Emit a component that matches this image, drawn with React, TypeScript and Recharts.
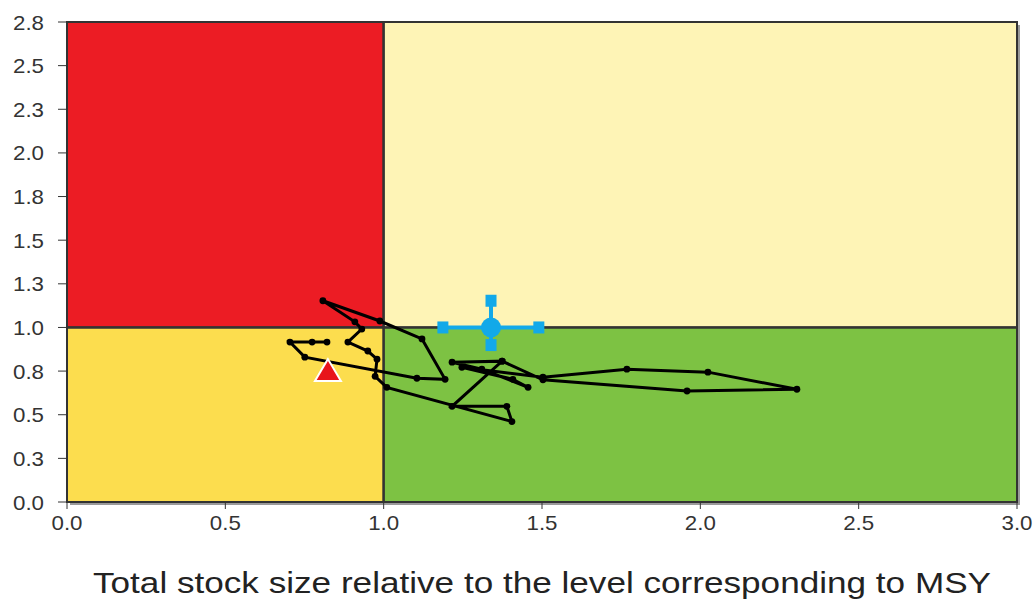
import {
  ScatterChart,
  Scatter,
  XAxis,
  YAxis,
  ReferenceArea,
  ReferenceLine,
  Label,
} from "recharts";

const X_TICKS = [0, 0.5, 1, 1.5, 2, 2.5, 3];
const Y_TICKS = [0, 0.25, 0.5, 0.75, 1, 1.25, 1.5, 1.75, 2, 2.25, 2.5, 2.75];

// stock trajectory (stock size / MSY, fishing pressure / MSY)
const TRAJ_X = [
  0.821, 0.774, 0.704, 0.751, 1.105, 1.194, 1.121, 0.988, 0.808, 0.909, 0.931,
  0.887, 0.95, 0.979, 0.973, 1.01, 1.405, 1.389, 1.216, 1.374, 1.216, 1.31,
  1.456, 1.408, 1.247, 1.503, 1.768, 2.024, 2.305, 1.958, 1.503, 1.374,
];
const TRAJ_Y = [
  0.916, 0.916, 0.916, 0.83, 0.709, 0.703, 0.934, 1.037, 1.153, 1.032, 0.991,
  0.916, 0.865, 0.818, 0.72, 0.657, 0.461, 0.548, 0.548, 0.807, 0.801, 0.761,
  0.657, 0.703, 0.772, 0.715, 0.761, 0.744, 0.646, 0.636, 0.7, 0.807,
];
const trajectory = TRAJ_X.map((x, i) => ({ x, y: TRAJ_Y[i] }));

// blue estimate with its ranges
const BLUE_CENTER = [{ x: 1.339, y: 1.0 }];
const BLUE_H = [
  { x: 1.187, y: 1.0 },
  { x: 1.49, y: 1.0 },
];
const BLUE_V = [
  { x: 1.339, y: 1.153 },
  { x: 1.339, y: 0.899 },
];

const RED_TRIANGLE = [{ x: 0.824, y: 0.75 }];

const RED = "#EC1C24";
const PALE = "#FEF4B6";
const YELLOW = "#FCDD4E";
const GREEN = "#7DC243";
const BLUE = "#12A9E9";
const BORDER = "#333";
const FONT = "Liberation Sans, Arial, sans-serif";

const fmt = (v: number) => v.toFixed(1);

// the source figure is a bit stretched sideways, so labels get a fixed length
function YTick(props: any) {
  return (
    <text
      x={props.x}
      y={props.y}
      textAnchor="end"
      dominantBaseline="central"
      fill="#333"
      fontSize={21}
      fontFamily={FONT}
      textLength={31}
      lengthAdjust="spacingAndGlyphs"
    >
      {fmt(props.payload.value)}
    </text>
  );
}

function XTick(props: any) {
  return (
    <text
      x={props.x}
      y={props.y}
      textAnchor="middle"
      dominantBaseline="hanging"
      fill="#333"
      fontSize={21}
      fontFamily={FONT}
      textLength={31}
      lengthAdjust="spacingAndGlyphs"
    >
      {fmt(props.payload.value)}
    </text>
  );
}

function Dot(props: any) {
  return <circle cx={props.cx} cy={props.cy} r={3.4} fill="#000" />;
}

function Square(props: any) {
  return <rect x={props.cx - 5.5} y={props.cy - 6} width={11} height={12} fill={BLUE} />;
}

function BigDot(props: any) {
  return <circle cx={props.cx} cy={props.cy} r={10} fill={BLUE} />;
}

function Triangle(props: any) {
  const { cx, cy } = props;
  return (
    <polygon
      points={`${cx},${cy - 12} ${cx - 13},${cy + 10} ${cx + 13},${cy + 10}`}
      fill="#E8141B"
      stroke="#fff"
      strokeWidth={2}
    />
  );
}

function PlotShadow(props: any) {
  const { x, y, width, height } = props;
  return <rect x={x + 3} y={y + 3} width={width} height={height} fill="#9a9a9a" />;
}

function AxisTitle(props: any) {
  const vb = props.viewBox;
  return (
    <text
      x={vb.x + vb.width / 2}
      y={583}
      textAnchor="middle"
      dominantBaseline="central"
      fill="#222"
      fontSize={29}
      fontFamily={FONT}
      textLength={898}
      lengthAdjust="spacingAndGlyphs"
    >
      Total stock size relative to the level corresponding to MSY
    </text>
  );
}

export default function App() {
  return (
    <div style={{ position: "absolute", left: 0, top: 0, background: "#fff" }}>
      <ScatterChart
        width={1036}
        height={603}
        margin={{ top: 22, right: 19, left: 17, bottom: 10 }}
      >
        <XAxis
          type="number"
          dataKey="x"
          domain={[0, 3]}
          ticks={X_TICKS}
          tickFormatter={fmt}
          tick={XTick}
          tickSize={7}
          tickMargin={6}
          stroke={BORDER}
          axisLine={false}
          height={91}
          allowDataOverflow
        >
          <Label content={AxisTitle} />
        </XAxis>
        <YAxis
          type="number"
          dataKey="y"
          domain={[0, 2.75]}
          ticks={Y_TICKS}
          tickFormatter={fmt}
          tick={YTick}
          tickSize={9}
          tickMargin={14}
          stroke={BORDER}
          axisLine={false}
          width={50}
          allowDataOverflow
        />
        <ReferenceArea x1={0} x2={3} y1={0} y2={2.75} shape={PlotShadow} />
        <ReferenceArea x1={0} x2={1} y1={1} y2={2.75} fill={RED} fillOpacity={1} stroke={BORDER} strokeWidth={2} />
        <ReferenceArea x1={1} x2={3} y1={1} y2={2.75} fill={PALE} fillOpacity={1} stroke={BORDER} strokeWidth={2} />
        <ReferenceArea x1={0} x2={1} y1={0} y2={1} fill={YELLOW} fillOpacity={1} stroke={BORDER} strokeWidth={2} />
        <ReferenceArea x1={1} x2={3} y1={0} y2={1} fill={GREEN} fillOpacity={1} stroke={BORDER} strokeWidth={2} />
        <ReferenceLine x={1} stroke={BORDER} strokeWidth={2} />
        <ReferenceLine y={1} stroke={BORDER} strokeWidth={2} />
        <Scatter
          data={trajectory}
          line={{ stroke: "#000", strokeWidth: 3 }}
          shape={Dot}
          isAnimationActive={false}
        />
        <Scatter data={BLUE_H} line={{ stroke: BLUE, strokeWidth: 4 }} shape={Square} isAnimationActive={false} />
        <Scatter data={BLUE_V} line={{ stroke: BLUE, strokeWidth: 4 }} shape={Square} isAnimationActive={false} />
        <Scatter data={BLUE_CENTER} shape={BigDot} isAnimationActive={false} />
        <Scatter data={RED_TRIANGLE} shape={Triangle} isAnimationActive={false} />
      </ScatterChart>
    </div>
  );
}
